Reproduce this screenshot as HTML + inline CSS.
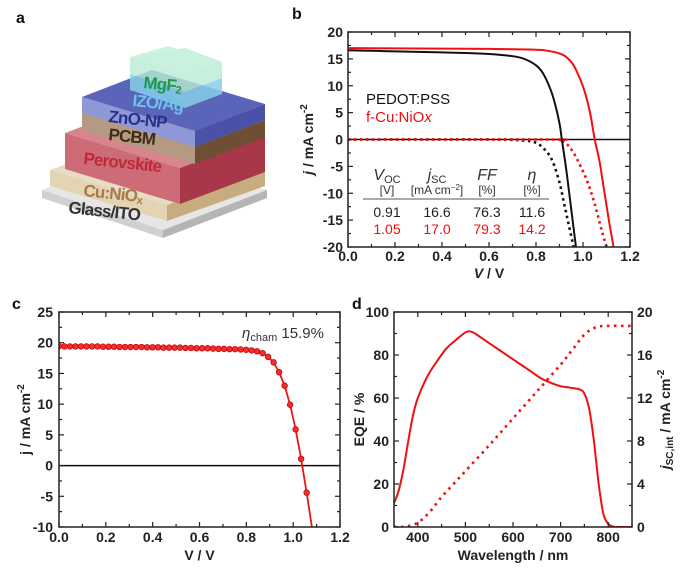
<!DOCTYPE html>
<html><head><meta charset="utf-8">
<style>
html,body{margin:0;padding:0;background:#fff;}
svg{display:block;font-family:"Liberation Sans",Arial,sans-serif;}
.tk{font-size:14px;font-weight:bold;fill:#222;}
.lab{font-size:14px;font-weight:bold;fill:#222;}
.pl{font-size:16px;font-weight:bold;fill:#111;}
</style></head>
<body>
<svg id="fig" width="685" height="574" viewBox="0 0 685 574">
<defs>
<clipPath id="clipb"><rect x="348" y="32" width="282" height="215"/></clipPath>
<clipPath id="clipc"><rect x="59" y="312" width="281" height="215"/></clipPath>
<clipPath id="clipd"><rect x="394" y="312" width="238" height="215"/></clipPath>
</defs>
<g id="panel-a">
<text class="pl" x="16" y="23">a</text>
<polygon points="42,190 163,230 267,190 146,150" fill="#e6e6e6"/>
<polygon points="42,190 163,230 163,238 42,198" fill="#d0d0d0"/>
<polygon points="163,230 267,190 267,198 163,238" fill="#b5b5b5"/>
<polygon points="50,170 167,205 265,170 148,135" fill="#e7dcc4"/>
<polygon points="50,170 167,205 167,221 50,186" fill="#e3d4b3"/>
<polygon points="167,205 265,170 265,186 167,221" fill="#c7ad7d"/>
<polygon points="65,133 180,168 265,136 150,101" fill="#d7868e"/>
<polygon points="65,133 180,168 180,204 65,169" fill="#cd6c77"/>
<polygon points="180,168 265,136 265,172 180,204" fill="#a9374a"/>
<polygon points="82,113 195,147 265,120 152,86" fill="#b59a84"/>
<polygon points="82,113 195,147 195,164 82,130" fill="#b49a82"/>
<polygon points="195,147 265,120 265,137 195,164" fill="#6e4f33"/>
<polygon points="82,97 195,131 265,104 152,70" fill="#5a64b8"/>
<polygon points="82,97 195,131 195,147 82,113" fill="#8e98d6"/>
<polygon points="195,131 265,104 265,120 195,147" fill="#4a52a8"/>
<polygon points="130,90 185,108 222,94 222,78 185,92 130,74" fill="#86cfe8" opacity="0.85"/>
<polygon points="130,74 185,92 222,78 222,62 185,48 130,57" fill="#b8ecd4" opacity="0.8"/>
<polygon points="130,57 185,75 222,62 168,46" fill="#c9f2de" opacity="0.9"/>
<g font-weight="bold" font-size="17" style="letter-spacing:-0.8px">
<text x="143" y="88" fill="#1f9a4a" transform="rotate(6 143 88)">MgF<tspan font-size="11" dy="2">2</tspan></text>
<text x="132" y="106" fill="#6cc3ea" transform="rotate(6 132 106)">IZO/Ag</text>
<text x="108" y="122" fill="#2b2f8a" transform="rotate(6 108 122)">ZnO-NP</text>
<text x="108" y="140" fill="#3e2a18" transform="rotate(6 108 140)">PCBM</text>
<text x="83" y="164" fill="#c0283a" transform="rotate(6 83 164)">Perovskite</text>
<text x="83" y="196" fill="#a87a50" transform="rotate(6 83 196)">Cu:NiO<tspan font-size="11" dy="2">x</tspan></text>
<text x="68" y="213" fill="#333" transform="rotate(6 68 213)">Glass/ITO</text>
</g>
</g>
</svg>
<script>
const bBlackV = [0,0.1,0.2,0.3,0.4,0.5,0.6,0.7,0.75,0.8,0.83,0.86,0.88,0.9,0.91,0.93,0.95,0.97];
const bBlackJ = [16.6,16.5,16.4,16.3,16.2,16.1,15.9,15.5,15.0,13.8,12.3,9.5,6.8,3,0,-6,-13,-20];
const bRedV = [0,0.2,0.4,0.6,0.8,0.85,0.9,0.93,0.96,0.99,1.01,1.03,1.05,1.07,1.09,1.11,1.13];
const bRedJ = [17.0,16.95,16.9,16.85,16.7,16.5,16.0,15.3,13.8,11.0,8.5,5,0,-4,-9.5,-15,-20];
const bBlackDarkV = [0,0.6,0.7,0.75,0.8,0.84,0.87,0.9,0.92,0.94,0.96];
const bBlackDarkJ = [0,0,-0.05,-0.2,-0.6,-2,-4,-8,-12,-16,-20];
const bRedDarkV = [0,0.85,0.9,0.93,0.96,0.99,1.02,1.05,1.08,1.1];
const bRedDarkJ = [0,0,-0.2,-0.8,-2.5,-5,-8,-12,-17,-20];
const bXTicks = ["0.0","0.2","0.4","0.6","0.8","1.0","1.2"];
const bYTicks = ["20","15","10","5","0","-5","-10","-15","-20"];
const cV = [0,0.0235,0.047,0.0705,0.094,0.1175,0.141,0.1645,0.188,0.2115,0.235,0.2585,0.282,0.3055,0.329,0.3525,0.376,0.3995,0.423,0.4465,0.47,0.4935,0.517,0.5405,0.564,0.5875,0.611,0.6345,0.658,0.6815,0.705,0.7285,0.752,0.7755,0.799,0.8225,0.846,0.8695,0.893,0.9165,0.94,0.9635,0.987,1.0105,1.034,1.0575];
const cJ = [19.4,19.4,19.4,19.4,19.4,19.4,19.4,19.4,19.35,19.35,19.35,19.3,19.3,19.3,19.3,19.3,19.25,19.25,19.25,19.2,19.2,19.2,19.2,19.15,19.15,19.1,19.1,19.1,19.05,19.0,19.0,18.95,18.95,18.9,18.85,18.75,18.6,18.3,17.7,16.8,15.2,13.0,9.9,5.9,1.1,-4.4];
const cTailV = [1.0575,1.08];
const cTailJ = [-4.4,-10];
const cXTicks = ["0.0","0.2","0.4","0.6","0.8","1.0","1.2"];
const cYTicks = ["25","20","15","10","5","0","-5","-10"];
const dEqeWl = [350,360,370,380,390,400,420,440,460,480,500,510,520,540,560,580,600,620,640,660,680,700,720,740,750,760,770,780,790,800,810,820,850];
const dEqe = [11,17,27,40,52,60,70,77,83,87,90.5,91,90,87,84,81,78,75,72,69,67,65.5,64.8,64,62,55,40,20,6,1.5,0.2,0,0];
const dJscWl = [350,375,400,425,450,475,500,550,600,650,700,725,750,770,790,850];
const dJsc = [0,0.05,0.4,1.4,2.8,4.0,5.2,7.6,10.1,12.6,15.1,16.5,17.9,18.5,18.7,18.7];
const dXTicks = ["400","500","600","700","800"];
const dYTicks = ["0","20","40","60","80","100"];
const dY2Ticks = ["0","4","8","12","16","20"];

const NS='http://www.w3.org/2000/svg';
const svg=document.getElementById('fig');
function el(tag, attrs, parent){const e=document.createElementNS(NS,tag);for(const k in attrs)e.setAttribute(k,attrs[k]);(parent||svg).appendChild(e);return e;}
function lin(d0,d1,r0,r1){return v=>r0+(v-d0)/(d1-d0)*(r1-r0);}
function smoothPath(xs,ys,sx,sy){
  const p=xs.map((x,i)=>[sx(x),sy(ys[i])]);
  let d='M'+p[0][0].toFixed(2)+','+p[0][1].toFixed(2);
  for(let i=0;i<p.length-1;i++){
    const p0=p[Math.max(0,i-1)],p1=p[i],p2=p[i+1],p3=p[Math.min(p.length-1,i+2)];
    const c1=[p1[0]+(p2[0]-p0[0])/6,p1[1]+(p2[1]-p0[1])/6];
    const c2=[p2[0]-(p3[0]-p1[0])/6,p2[1]-(p3[1]-p1[1])/6];
    d+=' C'+c1[0].toFixed(2)+','+c1[1].toFixed(2)+' '+c2[0].toFixed(2)+','+c2[1].toFixed(2)+' '+p2[0].toFixed(2)+','+p2[1].toFixed(2);
  }
  return d;
}
function ticksX(g,x0,x1,yT,yB,positions,len){
  positions.forEach(px=>{
    el('line',{x1:px,x2:px,y1:yB,y2:yB-len,stroke:'#222','stroke-width':1.2},g);
    el('line',{x1:px,x2:px,y1:yT,y2:yT+len,stroke:'#222','stroke-width':1.2},g);
  });
}
function ticksY(g,xL,xR,positions,len,left,right){
  positions.forEach(py=>{
    if(left)el('line',{x1:xL,x2:xL+len,y1:py,y2:py,stroke:'#222','stroke-width':1.2},g);
    if(right)el('line',{x1:xR,x2:xR-len,y1:py,y2:py,stroke:'#222','stroke-width':1.2},g);
  });
}

(function(){
const g=el('g',{});


const L=348,R=630,T=32,B=247;
const sx=lin(0,1.2,L,R), sy=lin(-20,20,B,T);
const pl=el('text',{x:292,y:19,class:'pl'},g);pl.textContent='b';


const cg=el('g',{'clip-path':'url(#clipb)'},g);
const zl=el('line',{x1:L,x2:R,y1:sy(0),y2:sy(0),stroke:'#111','stroke-width':1.5},cg);


const s1=el('path',{d:smoothPath(bBlackDarkV,bBlackDarkJ,sx,sy),fill:'none',stroke:'#111','stroke-width':2.6,'stroke-dasharray':'2.5,3.5'},cg);


const s2=el('path',{d:smoothPath(bRedDarkV,bRedDarkJ,sx,sy),fill:'none',stroke:'#f01010','stroke-width':2.6,'stroke-dasharray':'2.5,3.5'},cg);


const s3=el('path',{d:smoothPath(bBlackV,bBlackJ,sx,sy),fill:'none',stroke:'#111','stroke-width':2},cg);


const s4=el('path',{d:smoothPath(bRedV,bRedJ,sx,sy),fill:'none',stroke:'#f01010','stroke-width':2},cg);


const fr=el('rect',{x:L,y:T,width:R-L,height:B-T,fill:'none',stroke:'#222','stroke-width':1.5},g);


const maj=[],mn=[];
bXTicks.forEach(t=>maj.push(sx(parseFloat(t))));
for(let i=0;i<bXTicks.length-1;i++)mn.push(sx(parseFloat(bXTicks[i])+0.1));
ticksX(g,L,R,T,B,maj,5);ticksX(g,L,R,T,B,mn,3);
const ymaj=[],ymn=[];
bYTicks.forEach(t=>ymaj.push(sy(parseFloat(t))));
for(let i=0;i<bYTicks.length-1;i++)ymn.push(sy(parseFloat(bYTicks[i])-2.5));
ticksY(g,L,R,ymaj,5,true,true);ticksY(g,L,R,ymn,3,true,true);
bXTicks.forEach(t=>{const e=el('text',{x:sx(parseFloat(t)),y:B+14,'text-anchor':'middle',class:'tk'},g);e.textContent=t;

});
bYTicks.forEach(t=>{const e=el('text',{x:L-5,y:sy(parseFloat(t))+5,'text-anchor':'end',class:'tk'},g);e.textContent=t;

});
const xl=el('text',{x:(L+R)/2,y:278,'text-anchor':'middle',class:'lab','font-size':15},g);
xl.innerHTML='<tspan font-style="italic">V</tspan> / V';


const yl=el('text',{x:0,y:0,'text-anchor':'middle',class:'lab','font-size':15,transform:'translate(313,'+((T+B)/2)+') rotate(-90)'},g);
yl.innerHTML='<tspan font-style="italic">j</tspan> / mA cm<tspan font-size="10" dy="-6">-2</tspan>';


const lg1=el('text',{x:366,y:104,'font-size':15,fill:'#111'},g);lg1.textContent='PEDOT:PSS';


const lg2=el('text',{x:366,y:122,'font-size':15,fill:'#f01010'},g);lg2.innerHTML='f-Cu:NiO<tspan font-style="italic">x</tspan>';


const cols=[387,437,487,532];
const hdr=['<tspan font-style="italic">V</tspan><tspan font-size="11" dy="3">OC</tspan>','<tspan font-style="italic">j</tspan><tspan font-size="11" dy="3">SC</tspan>','<tspan font-style="italic">FF</tspan>','<tspan font-style="italic">η</tspan>'];
const unit=['[V]','[mA cm<tspan font-size="8" dy="-4">−2</tspan><tspan dy="4">]</tspan>','[%]','[%]'];
const r1=['0.91','16.6','76.3','11.6'];
const r2=['1.05','17.0','79.3','14.2'];
cols.forEach((cx,i)=>{
 const h=el('text',{x:cx,y:180,'text-anchor':'middle','font-size':16,fill:'#333'},g);h.innerHTML=hdr[i];
 
 
 const u=el('text',{x:cx,y:194,'text-anchor':'middle','font-size':12,fill:'#333'},g);u.innerHTML=unit[i];
 
 
 const a=el('text',{x:cx,y:217,'text-anchor':'middle','font-size':14,fill:'#222'},g);a.textContent=r1[i];
 
 
 const b=el('text',{x:cx,y:234,'text-anchor':'middle','font-size':14,fill:'#f01010'},g);b.textContent=r2[i];
 
 
});
const tl=el('line',{x1:363,x2:549,y1:199,y2:199,stroke:'#555','stroke-width':1},g);


})();

(function(){
const g=el('g',{});


const L=59,R=340,T=312,B=527;
const sx=lin(0,1.2,L,R), sy=lin(-10,25,B,T);
const pl=el('text',{x:12,y:309,class:'pl'},g);pl.textContent='c';


const cg=el('g',{'clip-path':'url(#clipc)'},g);
const zl=el('line',{x1:L,x2:R,y1:sy(0),y2:sy(0),stroke:'#111','stroke-width':1.5},cg);


let d='M'+cV.map((v,i)=>sx(v).toFixed(2)+','+sy(cJ[i]).toFixed(2)).join(' L');
d+=' L'+sx(cTailV[1]).toFixed(2)+','+sy(cTailJ[1]).toFixed(2);
const ln=el('path',{d:d,fill:'none',stroke:'#e81818','stroke-width':1.8},cg);


cV.forEach((v,i)=>{
 const c=el('circle',{cx:sx(v),cy:sy(cJ[i]),r:2.8,fill:'#f03030',stroke:'#c00','stroke-width':0.8},cg);
 
 
});
const fr=el('rect',{x:L,y:T,width:R-L,height:B-T,fill:'none',stroke:'#222','stroke-width':1.5},g);


const maj=[],mn=[];
cXTicks.forEach(t=>maj.push(sx(parseFloat(t))));
for(let i=0;i<cXTicks.length-1;i++)mn.push(sx(parseFloat(cXTicks[i])+0.1));
ticksX(g,L,R,T,B,maj,5);ticksX(g,L,R,T,B,mn,3);
const ymaj=[],ymn=[];
cYTicks.forEach(t=>ymaj.push(sy(parseFloat(t))));
for(let i=0;i<cYTicks.length-1;i++)ymn.push(sy(parseFloat(cYTicks[i])-2.5));
ticksY(g,L,R,ymaj,5,true,true);ticksY(g,L,R,ymn,3,true,true);
cXTicks.forEach(t=>{const e=el('text',{x:sx(parseFloat(t)),y:B+15,'text-anchor':'middle',class:'tk'},g);e.textContent=t;

});
cYTicks.forEach(t=>{const e=el('text',{x:L-6,y:sy(parseFloat(t))+5,'text-anchor':'end',class:'tk'},g);e.textContent=t;

});
const xl=el('text',{x:(L+R)/2,y:560,'text-anchor':'middle',class:'lab','font-size':15},g);xl.textContent='V / V';


const yl=el('text',{x:0,y:0,'text-anchor':'middle',class:'lab','font-size':15,transform:'translate(30,'+((T+B)/2)+') rotate(-90)'},g);
yl.innerHTML='j / mA cm<tspan font-size="10" dy="-6">-2</tspan>';


const an=el('text',{x:242,y:338,'font-size':15,fill:'#333'},g);
an.innerHTML='<tspan font-style="italic">η</tspan><tspan font-size="11" dy="3">cham</tspan><tspan dy="-3"> 15.9%</tspan>';


})();

(function(){
const g=el('g',{});


const L=394,R=632,T=312,B=527;
const sx=lin(350,850,L,R), sy=lin(0,100,B,T), sy2=lin(0,20,B,T);
const pl=el('text',{x:352,y:309,class:'pl'},g);pl.textContent='d';


const cg=el('g',{'clip-path':'url(#clipd)'},g);
const j=el('path',{d:smoothPath(dJscWl,dJsc,sx,sy2),fill:'none',stroke:'#f01010','stroke-width':2.6,'stroke-dasharray':'2.5,4.5'},cg);


const e=el('path',{d:smoothPath(dEqeWl,dEqe,sx,sy),fill:'none',stroke:'#f01010','stroke-width':2},cg);


const fr=el('rect',{x:L,y:T,width:R-L,height:B-T,fill:'none',stroke:'#222','stroke-width':1.5},g);


const maj=[],mn=[];
dXTicks.forEach(t=>maj.push(sx(parseFloat(t))));
[350,450,550,650,750,850].forEach(v=>mn.push(sx(v)));
ticksX(g,L,R,T,B,maj,5);ticksX(g,L,R,T,B,mn,3);
const ymaj=[],ymn=[],y2maj=[],y2mn=[];
dYTicks.forEach(t=>ymaj.push(sy(parseFloat(t))));
for(let i=0;i<dYTicks.length-1;i++)ymn.push(sy(parseFloat(dYTicks[i])+10));
dY2Ticks.forEach(t=>y2maj.push(sy2(parseFloat(t))));
for(let i=0;i<dY2Ticks.length-1;i++)y2mn.push(sy2(parseFloat(dY2Ticks[i])+2));
ticksY(g,L,R,ymaj,5,true,false);ticksY(g,L,R,ymn,3,true,false);
ticksY(g,L,R,y2maj,5,false,true);ticksY(g,L,R,y2mn,3,false,true);
dXTicks.forEach(t=>{const x=el('text',{x:sx(parseFloat(t)),y:B+15,'text-anchor':'middle',class:'tk'},g);x.textContent=t;

});
dYTicks.forEach(t=>{const x=el('text',{x:L-5,y:sy(parseFloat(t))+5,'text-anchor':'end',class:'tk'},g);x.textContent=t;

});
dY2Ticks.forEach(t=>{const x=el('text',{x:R+5,y:sy2(parseFloat(t))+5,'text-anchor':'start',class:'tk'},g);x.textContent=t;

});
const xl=el('text',{x:(L+R)/2,y:560,'text-anchor':'middle',class:'lab','font-size':15},g);xl.textContent='Wavelength / nm';


const yl=el('text',{x:0,y:0,'text-anchor':'middle',class:'lab','font-size':15,transform:'translate(364,'+((T+B)/2)+') rotate(-90)'},g);
yl.textContent='EQE / %';


const y2=el('text',{x:0,y:0,'text-anchor':'middle',class:'lab','font-size':15,transform:'translate(670,'+((T+B)/2)+') rotate(-90)'},g);
y2.innerHTML='<tspan font-style="italic">j</tspan><tspan font-size="10" dy="3">SC,int</tspan><tspan dy="-3"> / mA cm</tspan><tspan font-size="10" dy="-6">-2</tspan>';


})();
</script>
</body></html>
